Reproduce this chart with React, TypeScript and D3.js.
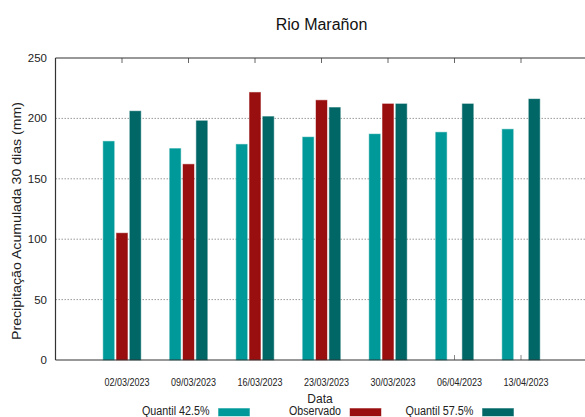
import React from "react";
import * as d3 from "d3";

const dates = ["02/03/2023", "09/03/2023", "16/03/2023", "23/03/2023", "30/03/2023", "06/04/2023", "13/04/2023"];
const quantil425 = [181, 175, 178.5, 184.5, 187, 188.5, 191];
const observado: (number | null)[] = [105, 162, 221.5, 215, 212, null, null];
const quantil575 = [206, 198, 201.5, 209, 212, 212, 216];
const yTicks = [0, 50, 100, 150, 200, 250];
const seriesNames = ["Quantil 42.5%", "Observado", "Quantil 57.5%"];
const colors = ["#009999", "#990e0e", "#006666"];

const W = 585;
const H = 417;
const left = 55.5;
const right = 587.5;
const top = 58;
const bottom = 360;
const font = "'Liberation Sans', Arial, sans-serif";

export default function App() {
  const x = d3.scaleLinear().domain([-1, 7]).range([left, right]);
  const y = d3.scaleLinear().domain([0, 250]).range([bottom, top]);
  const unit = x(1) - x(0);
  const barW = unit * 0.165;
  const offsets = [-0.2, 0, 0.2];
  const series = [quantil425, observado, quantil575];
  const legendTextEnd = [209.5, 341, 473.5];
  const legendTextLen = [67.5, 52, 68];

  return (
    <svg width={W} height={H} style={{ position: "absolute", left: 0, top: 0, background: "#fff" }} fontFamily={font}>
      <rect x={0} y={0} width={W} height={H} fill="#fff" />
      <text x={(left + right) / 2} y={30} textAnchor="middle" fontSize={16} fill="#111">Rio Marañon</text>
      {yTicks.filter((t) => t > 0 && t < 250).map((t) => (
        <line key={"g" + t} x1={left} x2={right} y1={y(t)} y2={y(t)} stroke="#9a9a9a" strokeWidth={1} strokeDasharray="1.5,1.5" />
      ))}
      {yTicks.map((t) => (
        <text key={"yt" + t} x={47} y={y(t) + 4} textAnchor="end" fontSize={11.5} fill="#222">{t}</text>
      ))}
      {dates.map((d, i) => (
        <g key={"xt" + i}>
          <line x1={x(i)} x2={x(i)} y1={bottom} y2={bottom - 5} stroke="#888" />
          <line x1={x(i)} x2={x(i)} y1={top} y2={top + 5} stroke="#666" />
          <text x={x(i) + 5} y={386} textAnchor="middle" fontSize={11} textLength={45} lengthAdjust="spacingAndGlyphs" fill="#222">{d}</text>
        </g>
      ))}
      {series.map((s, k) =>
        s.map((v, i) =>
          v == null ? null : (
            <rect
              key={"b" + k + "-" + i}
              x={x(i + offsets[k]) - barW / 2}
              y={y(v)}
              width={barW}
              height={y(0) - y(v)}
              fill={colors[k]}
              stroke={colors[k]}
              strokeOpacity={0.45}
              strokeWidth={1}
            />
          )
        )
      )}
      <line x1={left} x2={left} y1={top} y2={bottom} stroke="#333" strokeWidth={1.2} />
      <line x1={left} x2={right} y1={top} y2={top} stroke="#333" strokeWidth={1.2} />
      <line x1={left} x2={right} y1={bottom} y2={bottom} stroke="#333" strokeWidth={1.2} />
      <text transform={`translate(21,221) rotate(-90)`} textAnchor="middle" fontSize={12} textLength={238} lengthAdjust="spacingAndGlyphs" fill="#222">
        Precipitação Acumulada 30 dias (mm)
      </text>
      <text x={320} y={403} textAnchor="middle" fontSize={12} fill="#222">Data</text>
      {seriesNames.map((n, k) => (
        <g key={"lg" + k}>
          <text x={legendTextEnd[k]} y={414.5} textAnchor="end" fontSize={12} textLength={legendTextLen[k]} lengthAdjust="spacingAndGlyphs" fill="#222">{n}</text>
          <rect x={legendTextEnd[k] + 9} y={408.5} width={31} height={7.5} fill={colors[k]} stroke={colors[k]} strokeOpacity={0.45} />
        </g>
      ))}
    </svg>
  );
}
